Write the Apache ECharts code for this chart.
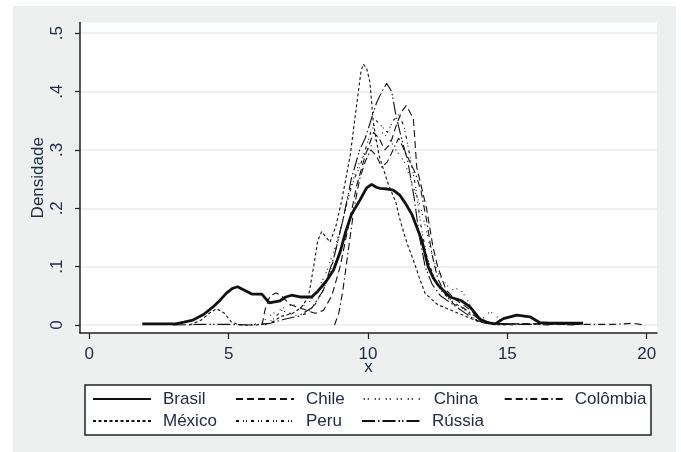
<!DOCTYPE html>
<html>
<head>
<meta charset="utf-8">
<script src="https://cdn.jsdelivr.net/npm/echarts@6/dist/echarts.min.js"></script>
<style>
html,body{margin:0;padding:0;background:#ffffff;}
#c{width:681px;height:452px;}
</style>
</head>
<body>
<div id="c"></div>
<script>
var seriesNames = ['Brasil','Chile','China','Colômbia','México','Peru','Rússia'];
var xTicks = [0,5,10,15,20];
var yTicks = [0,0.1,0.2,0.3,0.4,0.5];
var yTickLabels = ['0','.1','.2','.3','.4','.5'];

var brasil = [[1.9,0.002],[2.5,0.002],[3.1,0.002],[3.4,0.005],[3.72,0.0085],[4.1,0.018],[4.44,0.031],[4.7,0.043],[4.93,0.055],[5.15,0.063],[5.32,0.0655],[5.55,0.06],[5.83,0.053],[6.19,0.053],[6.46,0.038],[6.84,0.0415],[7.05,0.048],[7.26,0.051],[7.56,0.048],[7.98,0.048],[8.2,0.058],[8.5,0.075],[8.76,0.094],[9.0,0.125],[9.2,0.16],[9.41,0.19],[9.71,0.214],[9.95,0.235],[10.13,0.241],[10.3,0.236],[10.43,0.234],[10.7,0.233],[10.91,0.231],[11.15,0.222],[11.35,0.208],[11.57,0.19],[11.75,0.168],[11.93,0.145],[12.16,0.1],[12.35,0.08],[12.52,0.068],[12.94,0.048],[13.36,0.0415],[13.66,0.031],[13.85,0.02],[14.02,0.0097],[14.3,0.004],[14.56,0.002],[14.86,0.011],[15.34,0.017],[15.81,0.014],[16.17,0.004],[16.5,0.003],[17.0,0.003],[17.72,0.003]];
var chile = [[6.2,0],[6.3,0.025],[6.48,0.05],[6.7,0.055],[6.9,0.05],[7.2,0.035],[7.5,0.03],[7.8,0.025],[8.1,0.02],[8.4,0.025],[8.7,0.05],[9.0,0.1],[9.3,0.17],[9.6,0.24],[9.9,0.29],[10.2,0.33],[10.4,0.32],[10.6,0.3],[10.8,0.31],[11.0,0.34],[11.2,0.365],[11.37,0.376],[11.5,0.365],[11.63,0.353],[11.75,0.27],[11.9,0.24],[12.1,0.2],[12.33,0.134],[12.5,0.1],[12.8,0.06],[13.1,0.045],[13.4,0.035],[13.7,0.025],[14.0,0.01],[14.3,0.003],[15,0.002],[16,0.002],[17,0.001],[17.5,0]];
var china = [[5.8,0],[6.2,0.005],[6.6,0.02],[7.0,0.03],[7.3,0.035],[7.6,0.03],[7.9,0.04],[8.2,0.06],[8.5,0.09],[8.8,0.13],[9.1,0.18],[9.4,0.24],[9.7,0.28],[10.0,0.3],[10.3,0.32],[10.5,0.33],[10.75,0.32],[11.0,0.3],[11.3,0.28],[11.6,0.24],[11.9,0.2],[12.1,0.16],[12.3,0.12],[12.5,0.09],[12.8,0.07],[13.0,0.06],[13.3,0.063],[13.6,0.04],[13.9,0.015],[14.1,0.01],[14.38,0.023],[14.6,0.015],[14.9,0.003],[15.3,0]];
var colombia = [[8.8,0],[8.95,0.02],[9.1,0.06],[9.3,0.13],[9.5,0.2],[9.7,0.25],[9.9,0.28],[10.1,0.3],[10.3,0.29],[10.5,0.27],[10.7,0.28],[10.9,0.3],[11.1,0.32],[11.3,0.3],[11.5,0.28],[11.7,0.26],[11.9,0.23],[12.1,0.18],[12.3,0.12],[12.5,0.08],[12.8,0.05],[13.1,0.035],[13.4,0.03],[13.7,0.02],[14.0,0.01],[14.5,0.003],[15,0.002],[16,0.002],[17,0.001],[18,0.001],[18.8,0.001],[19.2,0.002],[19.5,0.003],[19.9,0]];
var mexico = [[3.6,0],[4.0,0.008],[4.3,0.02],[4.57,0.028],[4.85,0.02],[5.1,0.005],[5.4,0],[6.0,0],[6.5,0.003],[6.9,0.015],[7.3,0.02],[7.6,0.03],[7.86,0.048],[8.05,0.1],[8.2,0.145],[8.34,0.16],[8.5,0.15],[8.64,0.142],[8.85,0.17],[9.06,0.214],[9.36,0.29],[9.6,0.38],[9.75,0.435],[9.83,0.447],[9.95,0.44],[10.07,0.416],[10.19,0.347],[10.4,0.29],[10.7,0.245],[11.0,0.21],[11.15,0.18],[11.4,0.14],[11.63,0.111],[11.85,0.08],[12.05,0.054],[12.5,0.035],[13.0,0.025],[13.5,0.015],[14.0,0.005],[14.5,0.001],[15,0]];
var peru = [[6.3,0],[6.6,0.01],[6.9,0.025],[7.2,0.02],[7.5,0.015],[7.8,0.02],[8.1,0.035],[8.4,0.06],[8.7,0.1],[9.0,0.16],[9.3,0.22],[9.5,0.25],[9.7,0.27],[9.9,0.3],[10.1,0.33],[10.3,0.35],[10.5,0.34],[10.7,0.33],[10.9,0.35],[11.1,0.36],[11.3,0.34],[11.5,0.29],[11.7,0.24],[11.9,0.17],[12.1,0.12],[12.3,0.09],[12.6,0.06],[12.9,0.045],[13.2,0.035],[13.5,0.025],[13.8,0.012],[14.1,0.005],[14.6,0.002],[15.2,0]];
var russia = [[3.0,0],[4,0.001],[5,0.001],[5.8,0],[6.5,0.003],[7.0,0.01],[7.5,0.015],[8.0,0.03],[8.4,0.06],[8.8,0.12],[9.1,0.18],[9.4,0.25],[9.7,0.3],[9.9,0.32],[10.1,0.35],[10.3,0.38],[10.5,0.4],[10.67,0.414],[10.85,0.4],[11.0,0.36],[11.2,0.32],[11.43,0.28],[11.65,0.22],[11.85,0.15],[12.05,0.1],[12.3,0.07],[12.6,0.05],[12.9,0.04],[13.2,0.03],[13.5,0.02],[13.8,0.01],[14.2,0.003],[15,0.001],[16,0.001],[16.5,0]];

var seriesData = [brasil, chile, china, colombia, mexico, peru, russia];
var dashes = ['solid',[7,4],[1,3,1,6],[7,4,7,3,1.5,3],[3,2.5],[3,4,1,2,1,4],[13,3,1.5,3,13,3,1.5,2,1.5,3]];
var widths = [2.8,1.1,1.1,1.1,1.1,1.1,1.1];

var txt = '#232b45';
var font = '"Liberation Sans", Arial, sans-serif';
var chart = echarts.init(document.getElementById('c'), null, {renderer:'canvas'});

var series = seriesNames.map(function(n,i){
  return {
    name:n, type:'line', data:seriesData[i], showSymbol:false, symbol:'none',
    lineStyle:{color:'#111', width:widths[i], type:dashes[i]},
    itemStyle:{color:'#111'}, z: i===0?5:3, animation:false
  };
});

function legendRow(names, widthsTxt, top){
  return {
    top: top, left: 92, padding: 0, itemGap: 18, itemWidth: 58, itemHeight: 14,
    selectedMode: false,
    itemStyle: {opacity: 0},
    data: names.map(function(n,i){
      var ts = {padding:[0,0,0,7], align:'left'};
      if (widthsTxt[i]) { ts.width = widthsTxt[i]; ts.overflow = 'none'; }
      return {name:n, textStyle: ts};
    }),
    textStyle:{color:txt, fontSize:17, fontFamily:font, lineHeight:20}
  };
}

chart.setOption({
  backgroundColor:'#ffffff',
  animation:false,
  graphic:[
    {type:'rect', z:-100, shape:{x:13,y:6,width:663,height:446}, style:{fill:'#eef0ef'}},
    {type:'rect', z:1, shape:{x:85,y:385,width:566,height:50}, style:{fill:'#ffffff', stroke:'#222', lineWidth:1.5}}
  ],
  grid:{left:80, right:24, top:22.5, bottom:119, show:true, backgroundColor:'#ffffff', borderWidth:0},
  xAxis:{
    type:'value', min:-0.334, max:20.37,
    name:'x', nameLocation:'middle', nameGap:26, nameMoveOverlap:false,
    nameTextStyle:{color:txt, fontSize:17, fontFamily:font},
    axisLine:{show:true, onZero:false, lineStyle:{color:'#222', width:1.5}},
    axisTick:{show:true, length:6, customValues:xTicks, lineStyle:{color:'#222', width:1.2}},
    axisLabel:{customValues:xTicks, color:txt, fontSize:17, fontFamily:font, margin:13},
    splitLine:{show:false}
  },
  yAxis:{
    type:'value', min:-0.0137, max:0.5183,
    name:'Densidade', nameLocation:'middle', nameGap:33, nameRotate:90, nameMoveOverlap:false,
    nameTextStyle:{color:txt, fontSize:17, fontFamily:font},
    axisLine:{show:true, onZero:false, lineStyle:{color:'#222', width:1.5}},
    axisTick:{show:true, length:5, customValues:yTicks, lineStyle:{color:'#222', width:1.2}},
    axisLabel:{customValues:yTicks, rotate:90, color:txt, fontSize:17, fontFamily:font, margin:14,
      formatter:function(v){ var k = -1; for (var j=0;j<yTicks.length;j++){ if (Math.abs(yTicks[j]-v)<1e-9) k=j; } return k>=0 ? yTickLabels[k] : ''; }},
    splitLine:{show:true, lineStyle:{color:'#ebebeb', width:1.5}}
  },
  legend:[
    legendRow(['Brasil','Chile','China','Colômbia'], [54,37,52,0], 389),
    legendRow(['México','Peru','Rússia'], [54,37,52], 411)
  ],
  series: series
});
</script>
</body>
</html>
